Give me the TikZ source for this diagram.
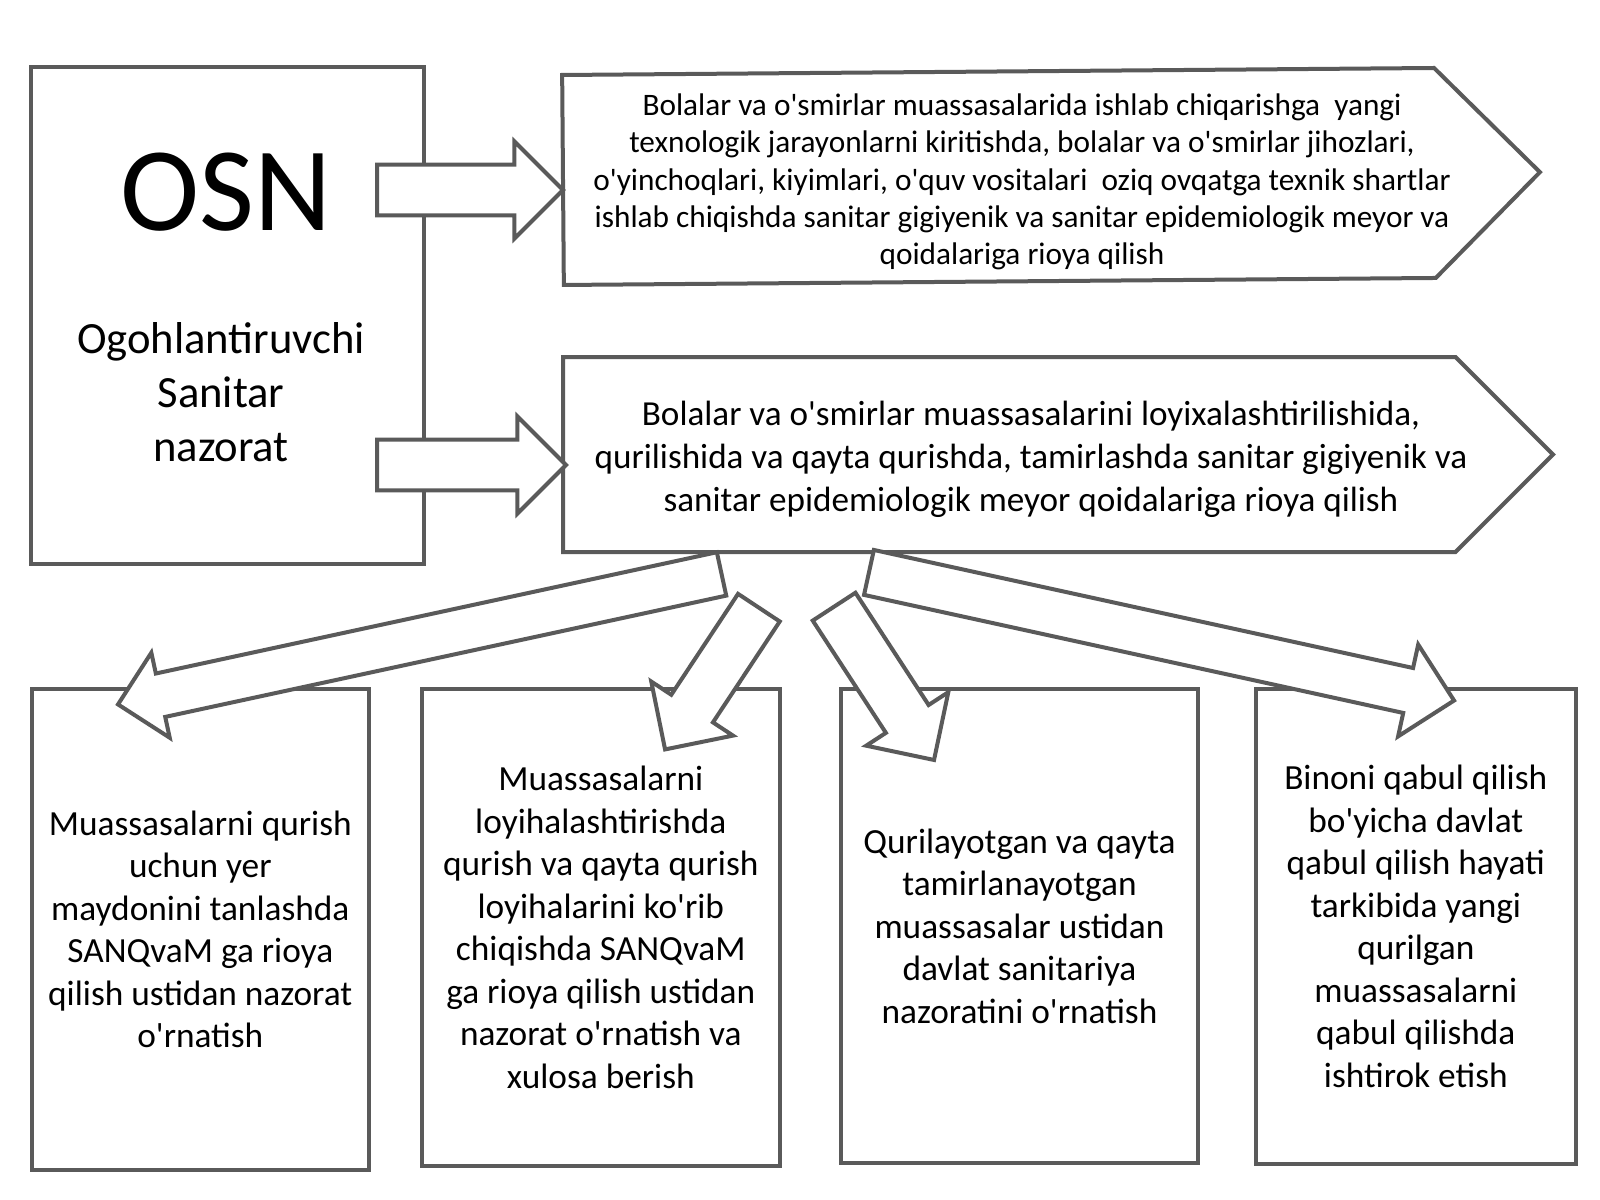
\documentclass[tikz,border=0pt]{standalone}
\usepackage{fontspec}
\setmainfont{Carlito}[Ligatures=TeXOff]
\usetikzlibrary{shapes.arrows,shapes.symbols}
\definecolor{edgegray}{RGB}{90,90,90}
\tikzset{
	plainbox/.style={draw=edgegray, line width=0.4mm, fill=white, align=center, inner sep=0pt},
	pentbox/.style={signal, signal to=east, signal pointer angle=90, draw=edgegray, line width=0.4mm, fill=white, inner sep=0pt, anchor=west},
	fatarrow/.style={single arrow, single arrow tip angle=90, draw=edgegray, line width=0.4mm, fill=white, inner xsep=0pt, anchor=tail},
	boxtext/.style={font=\fontsize{10.05}{12.1}\selectfont},
}
\begin{document}
\begin{tikzpicture}[x=0.1mm,y=-0.1mm]
		\useasboundingbox (0,0) rectangle (1600,1200);
		\node[plainbox, minimum width=39.3mm, minimum height=49.7mm] (osn) at (227.5,315.5) {};
		\node[font=\fontsize{34}{40}\selectfont] (osnname) at (226,192) {OSN};
		\node[align=center, font=\fontsize{12.7}{15.3}\selectfont] (osnsub) at (221,392) {Ogohlantiruvchi\\ Sanitar\\ nazorat};
		\node[pentbox, minimum width=97.7mm, minimum height=21mm, rotate=0.46] (talab1) at (561,180) {};
		\node[pentbox, minimum width=99mm, minimum height=19.5mm] (talab2) at (561,454.5) {};
		\node[align=center, font=\fontsize{8.9}{10.6}\selectfont] (talab1txt) at (1022,182) {Bolalar va o'smirlar muassasalarida ishlab chiqarishga~ yangi\\ texnologik jarayonlarni kiritishda, bolalar va o'smirlar jihozlari,\\ o'yinchoqlari, kiyimlari, o'quv vositalari~ oziq ovqatga texnik shartlar\\ ishlab chiqishda sanitar gigiyenik va sanitar epidemiologik meyor va\\ qoidalariga rioya qilish};
		\node[align=center, font=\fontsize{10}{12.2}\selectfont] (talab2txt) at (1031,459) {Bolalar va o'smirlar muassasalarini loyixalashtirilishida,\\ qurilishida va qayta qurishda, tamirlashda sanitar gigiyenik va\\ sanitar epidemiologik meyor qoidalariga rioya qilish};
		\node[plainbox, boxtext, minimum width=33.7mm, minimum height=48.1mm] (yer) at (200.3,929.5) {Muassasalarni qurish\\ uchun yer\\ maydonini tanlashda\\ SANQvaM ga rioya\\ qilish ustidan nazorat\\ o'rnatish};
		\node[plainbox, boxtext, minimum width=35.8mm, minimum height=47.7mm] (loyiha) at (600.8,927.5) {Muassasalarni\\ loyihalashtirishda\\ qurish va qayta qurish\\ loyihalarini ko'rib\\ chiqishda SANQvaM\\ ga rioya qilish ustidan\\ nazorat o'rnatish va\\ xulosa berish};
		\node[plainbox, boxtext, minimum width=35.7mm, minimum height=47.4mm] (qurilish) at (1019.5,926) {Qurilayotgan va qayta\\ tamirlanayotgan\\ muassasalar ustidan\\ davlat sanitariya\\ nazoratini o'rnatish};
		\node[plainbox, boxtext, minimum width=32mm, minimum height=47.5mm] (qabul) at (1415.8,926.5) {Binoni qabul qilish\\ bo'yicha davlat\\ qabul qilish hayati\\ tarkibida yangi\\ qurilgan\\ muassasalarni\\ qabul qilishda\\ ishtirok etish};
		\coordinate (osnA) at (375,190);
		\coordinate (osnB) at (375,465);
		\coordinate (tA) at (723.5,573.5);
		\coordinate (tB) at (760,606);
		\coordinate (tC) at (833,605);
		\coordinate (tD) at (867,572);
		\node[fatarrow, minimum height=18.6mm, inner ysep=2.33mm, single arrow head extend=2.33mm] (toT1) at (osnA) {};
		\node[fatarrow, minimum height=18.9mm, inner ysep=2.33mm, single arrow head extend=2.33mm] (toT2) at (osnB) {};
		\node[fatarrow, minimum height=61.75mm, inner ysep=2.02mm, single arrow head extend=2.13mm, rotate=192.2] (toYer) at (tA) {};
		\node[fatarrow, minimum height=17mm, inner ysep=2.3mm, single arrow head extend=2.4mm, rotate=236.5] (toLoyiha) at (tB) {};
		\node[fatarrow, minimum height=18.3mm, inner ysep=2.35mm, single arrow head extend=2.35mm, rotate=303.1] (toQurilish) at (tC) {};
		\node[fatarrow, minimum height=59.9mm, inner ysep=2.1mm, single arrow head extend=2.4mm, rotate=347.65] (toQabul) at (tD) {};
	\end{tikzpicture}
\end{document}
